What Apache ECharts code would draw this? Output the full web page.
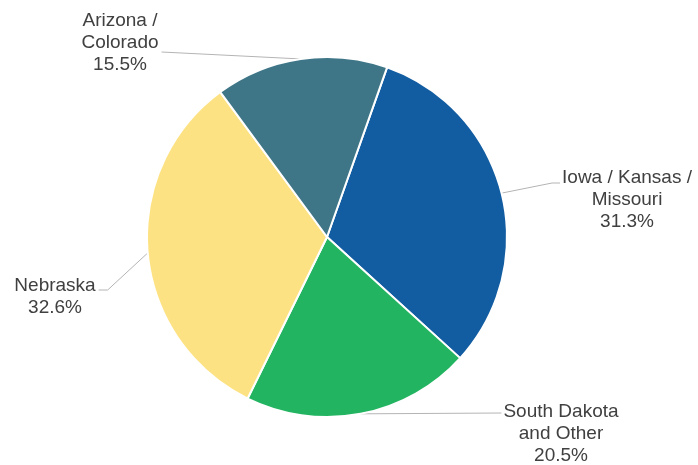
<!DOCTYPE html>
<html>
<head>
<meta charset="utf-8">
<script src="https://cdn.jsdelivr.net/npm/echarts@6/dist/echarts.min.js"></script>
<style>
  html, body { margin: 0; padding: 0; background: #ffffff; }
  #chart { width: 698px; height: 465px; }
</style>
</head>
<body>
<div id="chart"></div>
<script>
// Regional share, clockwise from the top-right slice
const regions = ['Iowa / Kansas /\nMissouri', 'South Dakota\nand Other', 'Nebraska', 'Arizona /\nColorado'];
const shares = [31.3, 20.5, 32.6, 15.5];
const sliceColors = ['#125ca1', '#22b460', '#fde283', '#3e7688'];

// Label centres and leader-line ends (relative to the label box)
const labelSpots = [
  { x: 627, y: 200, end: 'left', dy: -17, bend: 8 },
  { x: 561, y: 434, end: 'left', dy: -21, bend: 0 },
  { x: 55,  y: 297, end: 'right', dy: -7, bend: 9 },
  { x: 120, y: 43,  end: 'right', dy: 9, bend: 0 }
];

const chart = echarts.init(document.getElementById('chart'));

chart.setOption({
  animation: false,
  series: [{
    type: 'pie',
    center: [327, 237],
    radius: [0, 180],
    startAngle: 70.5,
    clockwise: true,
    avoidLabelOverlap: false,
    itemStyle: { borderColor: '#ffffff', borderWidth: 2 },
    label: {
      show: true,
      position: 'outside',
      formatter: p => p.name + '\n' + p.value.toFixed(1) + '%',
      fontFamily: 'Liberation Sans, Arial, sans-serif',
      fontSize: 19,
      lineHeight: 22,
      color: '#404040',
      align: 'center'
    },
    labelLine: {
      show: true,
      length: 10,
      length2: 10,
      lineStyle: { color: '#b4b4b4', width: 1 }
    },
    labelLayout: function (params) {
      const s = labelSpots[params.dataIndex];
      const w = params.labelRect.width;
      const start = params.labelLinePoints ? params.labelLinePoints[0] : [0, 0];
      const ex = s.end === 'left' ? s.x - w / 2 - 2 : s.x + w / 2 + 3;
      const ey = s.y + s.dy;
      const bx = s.end === 'left' ? ex - s.bend : ex + s.bend;
      return {
        x: s.x,
        y: s.y,
        align: 'center',
        verticalAlign: 'middle',
        labelLinePoints: [start, [bx, ey], [ex, ey]]
      };
    },
    data: regions.map((name, i) => ({
      name: name,
      value: shares[i],
      itemStyle: { color: sliceColors[i] }
    }))
  }]
});
</script>
</body>
</html>
